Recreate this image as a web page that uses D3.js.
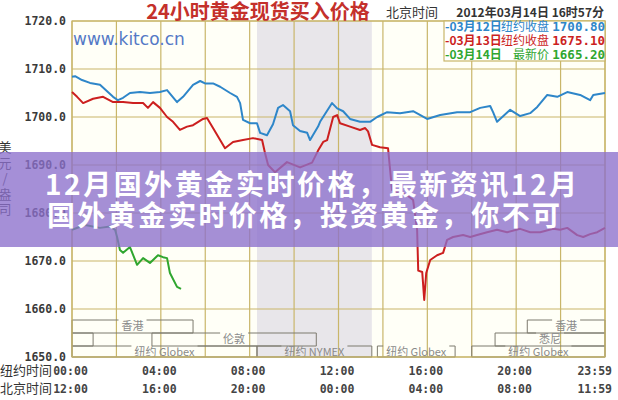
<!DOCTYPE html>
<html><head><meta charset="utf-8">
<script src="https://cdn.jsdelivr.net/npm/d3@7"></script>
<style>body{margin:0;background:#fff}svg{display:block}</style>
</head><body>
<svg id="c" width="618" height="400"></svg>
<script>
// ---- data (NY time hours, USD/oz) ----
const blueTimes = [0,0.14,0.45,0.81,1.26,1.85,2.07,2.30,2.61,3.06,3.51,3.96,4.28,4.73,5.0,5.45,5.77,5.99,6.35,6.67,7.12,7.43,7.57,7.70,8.02,8.33,8.47,8.78,9.05,9.28,9.50,9.82,9.95,10.27,10.59,10.72,11.08,11.17,11.71,11.94,12.21,12.52,12.97,13.42,13.74,14.19,14.77,15.36,15.99,16.58,17.34,17.93,18.38,18.83,18.96,19.14,19.73,20.18,20.63,20.95,21.40,21.85,22.30,22.88,23.33,23.47,24.0];
const blueValues = [1708.4,1708.5,1707.7,1707.1,1706.7,1704.2,1703.5,1704.0,1705.0,1705.2,1705.0,1705.2,1705.6,1703.1,1704.2,1706.7,1707.5,1707.0,1707.0,1706.3,1705.0,1704.2,1702.9,1699.4,1698.7,1698.7,1696.7,1696.2,1698.5,1701.9,1702.5,1701.2,1698.3,1697.1,1696.7,1695.2,1698.0,1699.0,1702.9,1701.8,1701.2,1699.6,1699.0,1699.0,1700.0,1701.0,1700.8,1701.2,1699.6,1700.4,1701.0,1701.0,1701.9,1702.3,1701.0,1699.0,1701.5,1700.2,1700.8,1702.1,1704.6,1704.2,1705.2,1704.6,1703.5,1704.6,1705.0];

const redTimes = [0,0.23,0.50,0.95,1.40,1.85,2.30,2.75,3.20,3.42,3.65,3.96,4.28,4.55,4.86,5.18,5.45,5.90,6.08,6.35,6.67,6.89,7.25,7.70,8.15,8.56,8.69,8.83,9.14,9.68,10.27,10.81,11.08,11.31,11.49,11.76,11.94,12.07,12.52,12.97,13.20,13.33,13.51,13.87,14.23,14.41,15.09,15.36,15.54,15.59,15.77,15.86,15.95,16.13,16.44,16.71,16.89,17.16,17.61,17.93,18.24,18.69,19.14,19.59,20.18,20.63,21.08,21.67,21.98,22.30,22.75,23.02,23.33,23.65,24.0];
const redValues = [1705.2,1704.2,1702.9,1703.8,1704.2,1703.1,1703.1,1702.9,1702.9,1701.9,1703.1,1701.9,1700.0,1699.0,1697.3,1698.0,1698.3,1699.6,1699.8,1697.7,1695.2,1693.5,1694.8,1695.2,1695.6,1695.2,1692.5,1690.0,1688.5,1690.6,1689.5,1690.5,1693.0,1694.8,1695.2,1700.0,1700.4,1698.7,1698.0,1697.3,1697.7,1697.0,1694.2,1693.7,1693.5,1684.8,1683.7,1682.7,1676.5,1668.0,1667.7,1661.9,1667.5,1670.2,1671.2,1671.7,1674.4,1675.0,1675.4,1675.0,1675.4,1676.0,1676.5,1676.0,1676.7,1676.0,1676.0,1676.7,1676.5,1676.9,1675.4,1675.0,1675.6,1676.0,1676.9];

const greenTimes = [0,0.59,1.26,1.71,1.94,2.03,2.16,2.30,2.61,2.93,3.20,3.51,3.87,4.10,4.28,4.41,4.73,4.91];
const greenValues = [1676.5,1677.5,1676.9,1677.2,1676.5,1675.0,1672.3,1671.7,1672.9,1669.2,1670.6,1669.6,1671.2,1670.8,1670.6,1667.5,1664.6,1664.2];

const yTicks = [1650,1660,1670,1680,1690,1700,1710,1720];
const gridHours = [0,2,4,6,8,10,12,14,16,18,20,22,24];
const labelHours = [0,4,8,12,16,20,24];
const nyLabels = ["00:00","04:00","08:00","12:00","16:00","20:00","23:59"];
const bjLabels = ["12:00","16:00","20:00","00:00","04:00","08:00","11:59"];

const legendDates = ["-03月12日","-03月13日","-03月14日"];
const legendLabels = ["纽约收盘","纽约收盘","最新价"];
const legendValues = ["1700.80","1675.10","1665.20"];

const nymexSpan = [8.33, 13.5];
const sessionNames = ["香港","香港","","悉尼","伦敦","纽约 Globex","纽约 NYMEX","纽约 Globex","纽约 Globex"];
const sessionStart = [0,20.5,0,19.05,3.6,0,8.33,13.75,18];
const sessionEnd = [5.45,24,0.95,24,11,8.33,13.5,17.25,24];
const sessionRow = [0,0,1,1,1,2,2,2,2];

const titleText = "24小时黄金现货买入价格";
const headerLabel = "北京时间";
const headerTime = "2012年03月14日 16时57分";
const overlayLines = ["12月国外黄金实时价格，最新资讯12月","国外黄金实时价格，投资黄金，你不可"];

// ---- drawing ----
const svg = d3.select("#c");
const L = 72, R = 605, T = 21, B = 357;
const x = d3.scaleLinear().domain([0,24]).range([L,R]);
const y = d3.scaleLinear().domain([1650,1720]).range([B,T]);
const gridCol = "#c9b66a";
const mono = "'DejaVu Sans Mono', monospace";
const cjk = "'Noto Sans CJK SC', sans-serif";

svg.append("rect").attr("width",618).attr("height",400).attr("fill","#fff");
svg.append("rect").attr("x",L).attr("y",T).attr("width",R-L).attr("height",B-T).attr("fill","#fffff7");
svg.append("rect").attr("x",x(nymexSpan[0])).attr("y",T).attr("width",x(nymexSpan[1])-x(nymexSpan[0])).attr("height",B-T).attr("fill","#e8e6ea");

// grid
svg.append("g").selectAll("line").data(yTicks).join("line")
  .attr("x1",L).attr("x2",R).attr("y1",d=>y(d)).attr("y2",d=>y(d))
  .attr("stroke",gridCol).attr("stroke-width",1.2);
svg.append("g").selectAll("line").data(gridHours).join("line")
  .attr("x1",d=>x(d)).attr("x2",d=>x(d)).attr("y1",T).attr("y2",B)
  .attr("stroke",gridCol).attr("stroke-width",1.2);

// watermark
svg.append("text").attr("x",L+1).attr("y",45).text("www.kitco.cn")
  .attr("font-family","'DejaVu Sans', sans-serif").attr("font-size",17).attr("fill","#5479c6");

// sessions
const rowTop = [320,333,346], rowBot = [333,346,357];
const sg = svg.append("g");
sessionNames.forEach((name,i)=>{
  const x0 = x(sessionStart[i]), x1 = x(sessionEnd[i]);
  const t = rowTop[sessionRow[i]], b = rowBot[sessionRow[i]];
  let lw = 0, cx = (x0+x1)/2;
  if (name) {
    const tx = sg.append("text").attr("x",cx).attr("y",t+10).attr("text-anchor","middle")
      .attr("font-family",cjk).attr("font-size",11).attr("fill","#8a8a8a").text(name);
    lw = tx.node().getComputedTextLength();
  }
  const p = d3.path();
  if (lw>0) {
    p.moveTo(cx-lw/2-3,t); p.lineTo(x0,t); p.lineTo(x0,b); p.lineTo(x1,b); p.lineTo(x1,t); p.lineTo(cx+lw/2+3,t);
  } else {
    p.moveTo(x0,t); p.lineTo(x0,b); p.lineTo(x1,b); p.lineTo(x1,t); p.closePath();
  }
  sg.insert("path","text").attr("d",p.toString()).attr("fill","none").attr("stroke","#7d7a6e").attr("stroke-width",1);
});

// plot border
svg.append("rect").attr("x",L).attr("y",T).attr("width",R-L).attr("height",B-T)
  .attr("fill","none").attr("stroke",gridCol).attr("stroke-width",1.2);

// series
const line = d3.line().x(d=>x(d[0])).y(d=>y(d[1]));
const series = [
  [d3.zip(blueTimes,blueValues),"#2e86c9"],
  [d3.zip(redTimes,redValues),"#cc1f1f"],
  [d3.zip(greenTimes,greenValues),"#2fa62f"]
];
series.forEach(([pts,col])=>{
  svg.append("path").attr("d",line(pts)).attr("fill","none").attr("stroke",col)
    .attr("stroke-width",2).attr("stroke-linejoin","round");
});

// legend
const lg = svg.append("g");
lg.append("rect").attr("x",444).attr("y",T).attr("width",R-444).attr("height",40)
  .attr("fill","#fff").attr("stroke",gridCol).attr("stroke-width",1.2);
const legCols = ["#2e86c9","#cc1f1f","#2fa62f"];
legendDates.forEach((d,i)=>{
  const yy = 31 + i*14;
  lg.append("text").attr("x",445).attr("y",yy).text(d).attr("font-family",cjk)
    .attr("font-size",12).attr("font-weight",700).attr("fill",legCols[i]);
  lg.append("text").attr("x",549).attr("y",yy).attr("text-anchor","end").text(legendLabels[i])
    .attr("font-family",cjk).attr("font-size",12).attr("fill",legCols[i]);
  lg.append("text").attr("x",605).attr("y",yy).attr("text-anchor","end").text(legendValues[i])
    .attr("font-family",mono).attr("font-size",12.5).attr("font-weight",700).attr("fill",legCols[i]);
});

// y axis labels
svg.append("g").selectAll("text").data(yTicks).join("text")
  .attr("x",66).attr("y",d=>y(d)+4).attr("text-anchor","end")
  .attr("font-family",mono).attr("font-size",11.5).attr("font-weight",700).attr("fill","#3a3a3a")
  .text(d=>d3.format(".1f")(d));

// unit label vertical
const unitChars = ["美","元","/","盎","司"];
svg.append("g").selectAll("text").data(unitChars).join("text")
  .attr("x",5).attr("y",(d,i)=>152+i*15.5).attr("text-anchor","middle")
  .attr("font-family",cjk).attr("font-size",13).attr("fill","#333").text(d=>d);

// x labels
svg.append("text").attr("x",0).attr("y",375).text("纽约时间").attr("font-family",cjk).attr("font-size",13).attr("fill","#333");
svg.append("text").attr("x",0).attr("y",393).text("北京时间").attr("font-family",cjk).attr("font-size",13).attr("fill","#333");
[nyLabels,bjLabels].forEach((labs,r)=>{
  svg.append("g").selectAll("text").data(labelHours).join("text")
    .attr("x",(d,i)=> i===labelHours.length-1 ? x(d)+7 : x(d)-1.5)
    .attr("y",375+r*18)
    .attr("text-anchor",(d,i)=> i===labelHours.length-1 ? "end" : "middle")
    .attr("font-family",mono).attr("font-size",11.5).attr("font-weight",700).attr("fill","#444")
    .text((d,i)=>labs[i]);
});

// title and header
svg.append("text").attr("x",258).attr("y",19).attr("text-anchor","middle").text(titleText)
  .attr("font-family",cjk).attr("font-size",20).attr("font-weight",700).attr("fill","#c4302b");
svg.append("text").attr("x",386).attr("y",17).text(headerLabel)
  .attr("font-family",cjk).attr("font-size",13).attr("fill","#333");
svg.append("text").attr("x",604).attr("y",17).attr("text-anchor","end").text(headerTime)
  .attr("font-family",cjk).attr("font-size",12).attr("font-weight",700).attr("fill","#333");

// overlay banner
svg.append("rect").attr("x",0).attr("y",152).attr("width",618).attr("height",95)
  .attr("fill","#8c6fcc").attr("opacity",0.78);
const ol = svg.append("g").attr("font-family",cjk).attr("font-weight",700).attr("font-size",28).attr("fill","#fff");
ol.append("text").attr("x",45).attr("y",195).attr("textLength",532).attr("lengthAdjust","spacing").text(overlayLines[0]);
ol.append("text").attr("x",47).attr("y",226).attr("textLength",513).attr("lengthAdjust","spacing").text(overlayLines[1]);
</script>
</body></html>
